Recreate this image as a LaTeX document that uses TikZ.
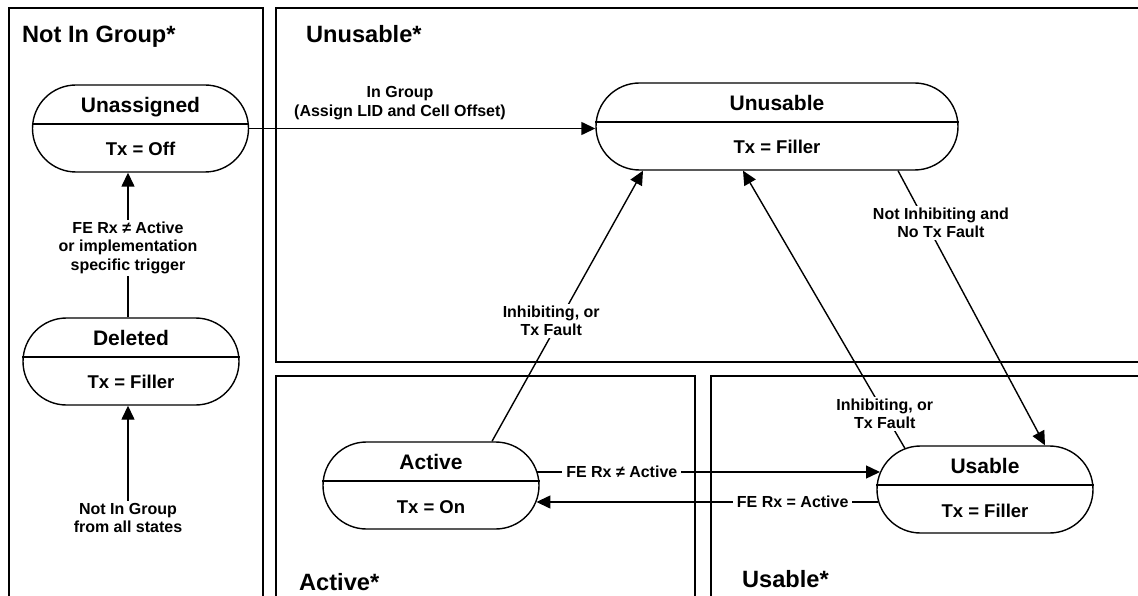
\documentclass[tikz,border=0pt]{standalone}
\usepackage{fontspec}
\setmainfont{Liberation Sans}
\usetikzlibrary{shapes.misc,arrows.meta,calc}
\begin{document}
\begin{tikzpicture}[x=1pt,y=-1pt,
  frame/.style={draw,line width=1.5pt},
  state/.style={draw,line width=1.4pt,shape=rounded rectangle,minimum width=216pt,minimum height=87pt,inner sep=0pt},
  sname/.style={font=\fontsize{21}{24}\selectfont\bfseries,anchor=base,inner sep=0pt},
  ssub/.style={font=\fontsize{18.5}{22}\selectfont\bfseries,anchor=base,inner sep=0pt},
  title/.style={font=\fontsize{23.6}{26}\selectfont\bfseries,anchor=base west,inner sep=0pt},
  elabel/.style={font=\fontsize{16}{18.5}\selectfont\bfseries,align=center,fill=white,inner sep=2pt},
  conn/.style={line width=1.4pt,-{Triangle[length=14pt,width=13pt]}},
  divider/.style={line width=1.2pt}
]
\useasboundingbox (0,0) rectangle (1138,596);
\clip (0,0) rectangle (1138,596);
% frames
\draw[frame] (9,8) rectangle (263,620);
\draw[frame] (276,8) rectangle (1160,362);
\draw[frame] (276,376) rectangle (695,620);
\draw[frame] (711,376) rectangle (1160,620);
% titles
\node[title] (t1) at (22,43) {Not In Group*};
\node[title] (t2) at (306,43) {Unusable*};
\node[title] (t3) at (299,590) {Active*};
\node[title] (t4) at (742,587) {Usable*};
% states
\node[state] (ua) at (140.5,128.5) {};
\node[state] (dl) at (131,361.5) {};
\node[state,minimum width=362pt] (ub) at (777,126.5) {};
\node[state] (ac) at (431,485.5) {};
\node[state] (us) at (985,489.5) {};
\foreach \n in {ua,dl,ub,ac,us}
  \draw[divider] ($(\n.west)+(0,-4.5)$) -- ($(\n.east)+(0,-4.5)$);
\node[sname] (uan) at ($(ua.center)+(0,-16)$) {Unassigned};
\node[ssub]  (uat) at ($(ua.center)+(0,27)$) {Tx = Off};
\node[sname] (dln) at ($(dl.center)+(0,-16)$) {Deleted};
\node[ssub]  (dlt) at ($(dl.center)+(0,27)$) {Tx = Filler};
\node[sname] (ubn) at ($(ub.center)+(0,-16)$) {Unusable};
\node[ssub]  (ubt) at ($(ub.center)+(0,27)$) {Tx = Filler};
\node[sname] (acn) at ($(ac.center)+(0,-16)$) {Active};
\node[ssub]  (act) at ($(ac.center)+(0,28)$) {Tx = On};
\node[sname] (usn) at ($(us.center)+(0,-16)$) {Usable};
\node[ssub]  (ust) at ($(us.center)+(0,28)$) {Tx = Filler};
% connectors
\draw[conn] (ua.east) -- (ua.east -| ub.west);
\node[elabel,fill=none] (lig) at (400,103) {In Group\\(Assign LID and Cell Offset)};
\draw[conn] ($(dl.north)+(-3,0)$) -- node[elabel,pos=0.48] (l1) {FE Rx ≠ Active\\or implementation\\specific trigger} ($(ua.south)+(-12.5,0)$);
\node[elabel,fill=none] (nig) at (128,518) {Not In Group\\from all states};
\draw[conn] (nig.north) -- (nig.north |- dl.south);
\draw[conn] ($(ac.north)+(61,0)$) -- node[elabel,pos=0.445,xshift=-8pt] (l2) {Inhibiting, or\\Tx Fault} ($(ub.south)+(-134,0)$);
\draw[conn] ($(us.center)+(-80,-41)$) -- node[elabel,pos=0.125] (l3) {Inhibiting, or\\Tx Fault} ($(ub.south)+(-34,0)$);
\draw[conn] ($(ub.south)+(121,0)$) -- node[elabel,pos=0.19,xshift=15pt] (l4) {Not Inhibiting and\\No Tx Fault} ($(us.north)+(60,0)$);
\draw[conn] ($(ac.east)+(-2.6,-13.5)$) -- node[elabel,pos=0.247,inner sep=4pt] (l5) {FE Rx ≠ Active} ($(us.west)+(3.7,-17.5)$);
\draw[conn] ($(us.west)+(1.8,12.5)$) -- node[elabel,pos=0.25,inner sep=4pt] (l6) {FE Rx = Active} ($(ac.east)+(-3.25,16.5)$);
\end{tikzpicture}
\end{document}
